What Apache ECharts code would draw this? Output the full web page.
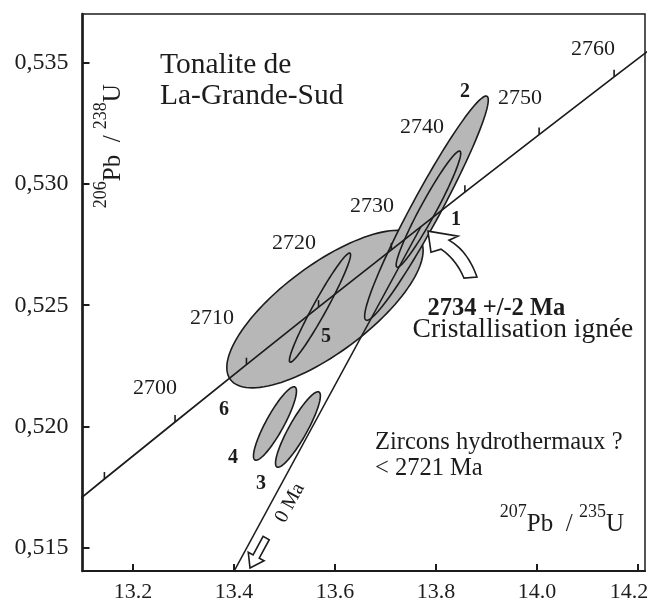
<!DOCTYPE html>
<html><head><meta charset="utf-8">
<script src="https://cdn.jsdelivr.net/npm/echarts@6/dist/echarts.min.js"></script>
<style>html,body{margin:0;padding:0;background:#fff}#c{width:650px;height:606px}</style>
</head><body><div id="c"></div>
<script>
// ---- data ----
const xTicks = [13.2, 13.4, 13.6, 13.8, 14.0, 14.2];
const yTicks = [0.515, 0.520, 0.525, 0.530, 0.535];
const concordiaAges = [2680, 2690, 2700, 2710, 2720, 2730, 2740, 2750, 2760, 2770];
const concordiaX = [13.0048, 13.1434, 13.2833, 13.4247, 13.5675, 13.7117, 13.8573, 14.0043, 14.1528, 14.3028];
const concordiaY = [0.51548, 0.51784, 0.52019, 0.52255, 0.52492, 0.52728, 0.52966, 0.53203, 0.53441, 0.53679];
const tickAges = [2690, 2700, 2710, 2720, 2730, 2740, 2750, 2760];
const ageLabels = ['2700', '2710', '2720', '2730', '2740', '2750', '2760'];
const ageLabelX = [13.2436, 13.3564, 13.5188, 13.6733, 13.7723, 13.9663, 14.1109];
const ageLabelY = [0.521588, 0.524471, 0.527559, 0.529083, 0.532336, 0.533530, 0.535548];
const discordiaX = [13.39, 13.770];
const discordiaY = [0.51365, 0.52823];
const ellipseNames = ['6', '5', '2', '1', '4', '3'];
const ellipseCx = [13.5802, 13.5703, 13.7812, 13.7851, 13.4812, 13.5267];
const ellipseCy = [0.524842, 0.524903, 0.529000, 0.528959, 0.520127, 0.519880];
const ellipseTipX = [13.7675, 13.6297, 13.9010, 13.8475, 13.5208, 13.5683];
const ellipseTipY = [0.527744, 0.527147, 0.533612, 0.531347, 0.521630, 0.521424];
const ellipseRatio = [0.373, 0.11, 0.114, 0.12, 0.216, 0.21];
const fracLabels = ['1', '2', '3', '4', '5', '6'];
const fracX = [13.8396, 13.8574, 13.4535, 13.3980, 13.5822, 13.3802];
const fracY = [0.528506, 0.533777, 0.517635, 0.518706, 0.523689, 0.520683];
const noteTexts = ['Tonalite de', 'La-Grande-Sud', '2734 +/-2 Ma', 'Cristallisation ignée',
  'Zircons hydrothermaux ?', '< 2721 Ma', '{s|207}{n|Pb  / }{s|235}{n|U}', '{s|206}{n|Pb  / }{s|238}{n|U}', '0 Ma'];
const noteX = [13.2535, 13.2535, 13.9198, 13.9723, 13.6792, 13.6792, 14.0495, 13.1525, 13.5109];
const noteY = [0.534889, 0.533592, 0.524842, 0.523977, 0.519344, 0.518253, 0.516153, 0.531553, 0.516853];
const arrowX = [13.7842, 13.4317];
const arrowY = [0.528053, 0.514176];

// ---- styles (not data) ----
const SERIF = '"Liberation Serif", "DejaVu Serif", serif';
const INK = '#1c1c1c';
const noteStyles = [
  {fontSize: 29.5, align: 'left'},
  {fontSize: 29.5, align: 'left'},
  {fontSize: 24.5, fontWeight: 'bold', align: 'center'},
  {fontSize: 27.5, align: 'center'},
  {fontSize: 24.5, align: 'left'},
  {fontSize: 24.5, align: 'left'},
  {fontSize: 25, align: 'center', rich: true},
  {fontSize: 25, align: 'center', rich: true, rotation: Math.PI / 2},
  {fontSize: 20, align: 'center', rotation: 61.5 * Math.PI / 180}
];
const richStyle = {
  s: {fontSize: 18, fontFamily: SERIF, fill: INK, verticalAlign: 'top', lineHeight: 33},
  n: {fontSize: 25, fontFamily: SERIF, fill: INK, verticalAlign: 'bottom', lineHeight: 33}
};

const chart = echarts.init(document.getElementById('c'), null, {renderer: 'canvas'});

function concPoint(age) {
  const i = concordiaAges.indexOf(age);
  return [concordiaX[i], concordiaY[i]];
}

function renderEllipse(params, api) {
  const c = api.coord([api.value(0), api.value(1)]);
  const t = api.coord([api.value(2), api.value(3)]);
  const ux = t[0] - c[0], uy = t[1] - c[1];
  const r = api.value(4);
  const vx = -uy * r, vy = ux * r;
  const pts = [];
  for (let k = 0; k < 120; k++) {
    const a = k / 120 * 2 * Math.PI;
    pts.push([c[0] + Math.cos(a) * ux + Math.sin(a) * vx, c[1] + Math.cos(a) * uy + Math.sin(a) * vy]);
  }
  return {type: 'polygon', shape: {points: pts}, style: {fill: '#b7b7b7', stroke: INK, lineWidth: 1.6}};
}

function renderTick(params, api) {
  const p = api.coord([api.value(0), api.value(1)]);
  return {type: 'line', shape: {x1: p[0], y1: p[1], x2: p[0], y2: p[1] - 7}, style: {stroke: INK, lineWidth: 1.6}};
}

function textItem(p, text, st) {
  const style = {text: text, fill: INK, fontFamily: SERIF, fontSize: st.fontSize,
    fontWeight: st.fontWeight || 'normal', align: st.align || 'center', verticalAlign: 'middle'};
  if (st.rich) style.rich = richStyle;
  return {type: 'text', x: p[0], y: p[1], rotation: st.rotation || 0, style: style};
}

function renderNote(params, api) {
  const i = params.dataIndex;
  const p = api.coord([api.value(0), api.value(1)]);
  return textItem(p, noteTexts[i], noteStyles[i]);
}
function renderAge(params, api) {
  const p = api.coord([api.value(0), api.value(1)]);
  return textItem(p, ageLabels[params.dataIndex], {fontSize: 22});
}
function renderFrac(params, api) {
  const p = api.coord([api.value(0), api.value(1)]);
  return textItem(p, fracLabels[params.dataIndex], {fontSize: 20, fontWeight: 'bold'});
}

function quad(p0, c, p1, n) {
  const out = [];
  for (let k = 1; k <= n; k++) {
    const t = k / n;
    out.push([(1 - t) * (1 - t) * p0[0] + 2 * (1 - t) * t * c[0] + t * t * p1[0],
              (1 - t) * (1 - t) * p0[1] + 2 * (1 - t) * t * c[1] + t * t * p1[1]]);
  }
  return out;
}

function renderArrow(params, api) {
  const p = api.coord([api.value(0), api.value(1)]);
  let rel;
  if (params.dataIndex === 0) {
    rel = [[0, 0], [30, 5], [21, 9]]
      .concat(quad([21, 9], [40, 20], [49, 46], 14))
      .concat([[36, 47]])
      .concat(quad([36, 47], [28, 28], [13, 18], 14))
      .concat([[3, 21]]);
  } else {
    const d = [-0.476, 0.879], q = [0.879, 0.476];
    const hl = 13, hw = 9, sw = 3.5, sl = 21;
    const b = [-hl * d[0], -hl * d[1]];
    const tl = [b[0] - sl * d[0], b[1] - sl * d[1]];
    rel = [[0, 0],
      [b[0] + hw * q[0], b[1] + hw * q[1]],
      [b[0] + sw * q[0], b[1] + sw * q[1]],
      [tl[0] + sw * q[0], tl[1] + sw * q[1]],
      [tl[0] - sw * q[0], tl[1] - sw * q[1]],
      [b[0] - sw * q[0], b[1] - sw * q[1]],
      [b[0] - hw * q[0], b[1] - hw * q[1]]];
  }
  const pts = rel.map(r => [p[0] + r[0], p[1] + r[1]]);
  return {type: 'polygon', shape: {points: pts}, style: {fill: '#ffffff', stroke: INK, lineWidth: 1.6}};
}

const option = {
  animation: false,
  backgroundColor: '#ffffff',
  grid: {left: 82.5, right: 5, top: 14, bottom: 35, show: true, borderColor: INK, borderWidth: 1.5,
    containLabel: false, outerBoundsMode: 'none'},
  xAxis: {
    type: 'value', min: 13.1, max: 14.214,
    axisLine: {show: true, onZero: false, lineStyle: {color: INK, width: 2.2}},
    axisTick: {show: true, inside: true, length: 7, customValues: xTicks, lineStyle: {color: INK, width: 2}},
    axisLabel: {show: true, customValues: xTicks, margin: 10, color: INK, fontFamily: SERIF, fontSize: 22,
      formatter: v => (Math.abs(v - xTicks[xTicks.length - 1]) < 1e-9 ? '{r|' + v.toFixed(1) + '}' : v.toFixed(1)),
      rich: {r: {fontFamily: SERIF, fontSize: 22, color: INK, padding: [0, 18, 0, 0]}}},
    splitLine: {show: false}
  },
  yAxis: {
    type: 'value', min: 0.51405, max: 0.537,
    axisLine: {show: true, onZero: false, lineStyle: {color: INK, width: 2.6}},
    axisTick: {show: true, inside: true, length: 7, customValues: yTicks, lineStyle: {color: INK, width: 2}},
    axisLabel: {show: true, customValues: yTicks, margin: 14, color: INK, fontFamily: SERIF, fontSize: 24,
      formatter: v => v.toFixed(3).replace('.', ',')},
    splitLine: {show: false}
  },
  series: [
    {type: 'custom', name: 'ellipses', coordinateSystem: 'cartesian2d', silent: true, z: 2,
      encode: {x: 0, y: 1},
      data: ellipseNames.map((n, i) => [ellipseCx[i], ellipseCy[i], ellipseTipX[i], ellipseTipY[i], ellipseRatio[i]]),
      renderItem: renderEllipse},
    {type: 'line', name: 'concordia', silent: true, z: 3, showSymbol: false, symbol: 'none', clip: true,
      lineStyle: {color: INK, width: 1.7},
      data: concordiaX.map((x, i) => [x, concordiaY[i]])},
    {type: 'line', name: 'discordia', silent: true, z: 3, showSymbol: false, symbol: 'none', clip: true,
      lineStyle: {color: INK, width: 1.5},
      data: discordiaX.map((x, i) => [x, discordiaY[i]])},
    {type: 'custom', name: 'ticks', coordinateSystem: 'cartesian2d', silent: true, z: 4,
      encode: {x: 0, y: 1}, data: tickAges.map(a => concPoint(a)), renderItem: renderTick},
    {type: 'custom', name: 'ages', coordinateSystem: 'cartesian2d', silent: true, z: 5,
      encode: {x: 0, y: 1}, data: ageLabelX.map((x, i) => [x, ageLabelY[i]]), renderItem: renderAge},
    {type: 'custom', name: 'fractions', coordinateSystem: 'cartesian2d', silent: true, z: 5,
      encode: {x: 0, y: 1}, data: fracX.map((x, i) => [x, fracY[i]]), renderItem: renderFrac},
    {type: 'custom', name: 'arrows', coordinateSystem: 'cartesian2d', silent: true, z: 6,
      encode: {x: 0, y: 1}, data: arrowX.map((x, i) => [x, arrowY[i]]), renderItem: renderArrow},
    {type: 'custom', name: 'notes', coordinateSystem: 'cartesian2d', silent: true, z: 6,
      encode: {x: 0, y: 1}, data: noteX.map((x, i) => [x, noteY[i]]), renderItem: renderNote}
  ]
};
chart.setOption(option);
</script>
</body></html>
